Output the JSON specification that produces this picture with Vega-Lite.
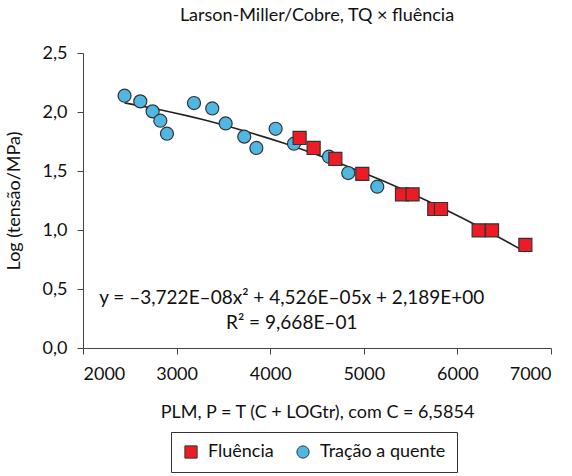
{
  "$schema": "https://vega.github.io/schema/vega-lite/v6.json",
  "width": 468,
  "height": 295,
  "autosize": "none",
  "padding": {"left": 83, "top": 53, "right": 21, "bottom": 128},
  "background": "white",
  "config": {
    "font": "Lato",
    "view": {"stroke": null},
    "axis": {"grid": false, "domainColor": "#444", "tickColor": "#444", "labelColor": "#111", "titleColor": "#111", "labelFont": "Lato", "titleFont": "Lato", "labelFontSize": 18, "titleFontSize": 18, "titleFontWeight": "normal", "tickSize": 6}
  },
  "title": {"text": "Larson-Miller/Cobre, TQ × fluência", "fontSize": 18, "fontWeight": "normal", "font": "Lato", "color": "#111", "offset": 19, "anchor": "middle"},
  "datasets": {
    "pts": [
      {"plm": 2444, "logt": 2.138, "serie": "Tração a quente"},
      {"plm": 2612, "logt": 2.09, "serie": "Tração a quente"},
      {"plm": 2744, "logt": 2.005, "serie": "Tração a quente"},
      {"plm": 2826, "logt": 1.926, "serie": "Tração a quente"},
      {"plm": 2897, "logt": 1.816, "serie": "Tração a quente"},
      {"plm": 3186, "logt": 2.076, "serie": "Tração a quente"},
      {"plm": 3381, "logt": 2.03, "serie": "Tração a quente"},
      {"plm": 3524, "logt": 1.903, "serie": "Tração a quente"},
      {"plm": 3723, "logt": 1.791, "serie": "Tração a quente"},
      {"plm": 3852, "logt": 1.695, "serie": "Tração a quente"},
      {"plm": 4058, "logt": 1.858, "serie": "Tração a quente"},
      {"plm": 4254, "logt": 1.731, "serie": "Tração a quente"},
      {"plm": 4628, "logt": 1.621, "serie": "Tração a quente"},
      {"plm": 4834, "logt": 1.483, "serie": "Tração a quente"},
      {"plm": 5144, "logt": 1.367, "serie": "Tração a quente"},
      {"plm": 4314, "logt": 1.78, "serie": "Fluência"},
      {"plm": 4464, "logt": 1.695, "serie": "Fluência"},
      {"plm": 4696, "logt": 1.602, "serie": "Fluência"},
      {"plm": 4984, "logt": 1.475, "serie": "Fluência"},
      {"plm": 5408, "logt": 1.302, "serie": "Fluência"},
      {"plm": 5521, "logt": 1.302, "serie": "Fluência"},
      {"plm": 5753, "logt": 1.178, "serie": "Fluência"},
      {"plm": 5825, "logt": 1.178, "serie": "Fluência"},
      {"plm": 6227, "logt": 0.997, "serie": "Fluência"},
      {"plm": 6370, "logt": 0.997, "serie": "Fluência"},
      {"plm": 6726, "logt": 0.873, "serie": "Fluência"}
    ],
    "eq": [
      {"plm": 4230, "logt": 0.375, "txt": "y = –3,722E–08x² + 4,526E–05x + 2,189E+00"},
      {"plm": 4230, "logt": 0.16, "txt": "R² = 9,668E–01"}
    ]
  },
  "layer": [
    {
      "data": {"name": "pts"},
      "transform": [{"regression": "logt", "on": "plm", "method": "poly", "order": 2}],
      "mark": {"type": "line", "color": "#222", "strokeWidth": 1.6},
      "encoding": {
        "x": {"field": "plm", "type": "quantitative"},
        "y": {"field": "logt", "type": "quantitative"}
      }
    },
    {
      "data": {"name": "pts"},
      "mark": {"type": "point", "filled": true, "size": 170, "stroke": "#333", "strokeWidth": 1.2, "opacity": 1},
      "encoding": {
        "x": {"field": "plm", "type": "quantitative", "scale": {"domain": [2000, 7000], "nice": false, "zero": false}, "axis": {"values": [2000, 3000, 4000, 5000, 6000, 7000], "format": "d", "labelPadding": 11, "title": "PLM, P = T (C + LOGtr), com C = 6,5854", "titlePadding": 20}},
        "y": {"field": "logt", "type": "quantitative", "scale": {"domain": [0, 2.5], "nice": false}, "axis": {"values": [0, 0.5, 1, 1.5, 2, 2.5], "labelExpr": "replace(format(datum.value, '.1f'), '.', ',')", "labelPadding": 10, "title": "Log (tensão/MPa)", "titlePadding": 19}},
        "color": {"field": "serie", "type": "nominal", "scale": {"domain": ["Fluência", "Tração a quente"], "range": ["#ed1c24", "#4fb7e2"]}, "legend": {"title": null, "orient": "none", "legendX": 88, "legendY": 379, "direction": "horizontal", "strokeColor": "#333", "padding": 11, "labelFontSize": 18, "labelFont": "Lato", "labelColor": "#111", "symbolSize": 150, "symbolStrokeColor": "#333", "symbolStrokeWidth": 1, "columnPadding": 20, "labelOffset": 8}},
        "shape": {"field": "serie", "type": "nominal", "scale": {"domain": ["Fluência", "Tração a quente"], "range": ["square", "circle"]}}
      }
    },
    {
      "data": {"name": "eq"},
      "mark": {"type": "text", "fontSize": 19, "font": "Lato", "color": "#111", "align": "center", "baseline": "alphabetic"},
      "encoding": {
        "x": {"field": "plm", "type": "quantitative"},
        "y": {"field": "logt", "type": "quantitative"},
        "text": {"field": "txt"}
      }
    }
  ]
}
